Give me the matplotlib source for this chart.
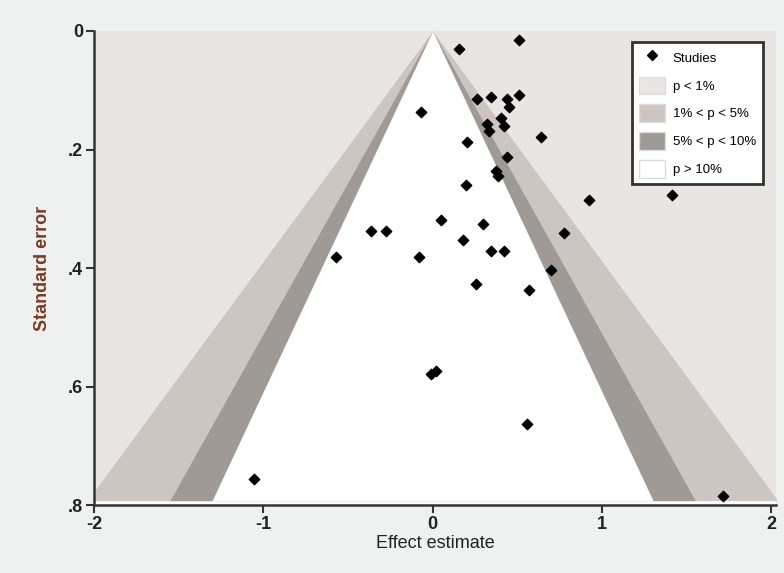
import numpy as np
import matplotlib.pyplot as plt
from matplotlib.lines import Line2D
from matplotlib.patches import Patch

# study effects and standard errors
effect = [0.157, 0.509, 0.265, 0.344, 0.440, 0.452, 0.511, -0.070, 0.324, 0.334,
          0.403, 0.423, 0.639, 0.206, 0.440, 0.374, 0.389, 0.196, 0.923, 1.415,
          0.048, 0.295, -0.365, -0.277, 0.775, 0.177, 0.344, 0.423, -0.573, -0.080,
          0.697, 0.255, 0.570, -0.007, 0.019, 0.558, -1.055, 1.717]
se = [0.030, 0.016, 0.114, 0.111, 0.115, 0.129, 0.108, 0.136, 0.157, 0.169,
      0.147, 0.160, 0.178, 0.187, 0.212, 0.236, 0.245, 0.260, 0.285, 0.276,
      0.319, 0.326, 0.338, 0.338, 0.341, 0.353, 0.371, 0.371, 0.381, 0.381,
      0.403, 0.426, 0.437, 0.578, 0.574, 0.662, 0.755, 0.785]

# contour limits (z for p = 1%, 5%, 10%) and shades
z_levels = [2.576, 1.960, 1.645]
shades = ['#cdc5c1', '#a09a97', '#ffffff']
bg_shade = '#e9e5e3'
legend_labels = ['Studies', 'p < 1%', '1% < p < 5%', '5% < p < 10%', 'p > 10%']

se_max = 0.792
x_ticks = [-2, -1, 0, 1, 2]
y_ticks = [0, 0.2, 0.4, 0.6, 0.8]
y_ticklabels = ['0', '.2', '.4', '.6', '.8']

plt.rcParams['font.family'] = ['Liberation Sans', 'DejaVu Sans']

fig = plt.figure(figsize=(7.84, 5.73), dpi=100, facecolor='#eef1f0')
ax = fig.add_axes([0.12, 0.118, 0.87, 0.828])
ax.set_facecolor('white')

# shaded significance regions
sev = np.array([0, se_max])
ax.fill_betweenx(sev, -3, 3, color=bg_shade, lw=0)
for z, c in zip(z_levels, shades):
    ax.fill_betweenx(sev, -z * sev, z * sev, color=c, lw=0)

ax.scatter(effect, se, marker='D', s=28, color='black', zorder=3)

ax.set_xlim(-2, 2.03)
ax.set_ylim(0.8, 0)
ax.set_xticks(x_ticks)
ax.set_xticklabels([str(t) for t in x_ticks])
ax.set_yticks(y_ticks)
ax.set_yticklabels(y_ticklabels)
ax.tick_params(direction='out', length=6, width=1.5, color='#333333',
               labelsize=13, labelcolor='#222222', pad=2)
for lab in ax.get_xticklabels() + ax.get_yticklabels():
    lab.set_fontweight('bold')

for s in ['top', 'right']:
    ax.spines[s].set_visible(False)
for s in ['left', 'bottom']:
    ax.spines[s].set_color('#333333')
    ax.spines[s].set_linewidth(1.8)

ax.set_xlabel('Effect estimate', fontsize=13, color='#222222', labelpad=1)
ax.set_ylabel('Standard error', fontsize=13, color='#7a3b22', labelpad=12,
              fontweight='bold')

handles = [Line2D([], [], marker='D', color='black', ls='none', markersize=5)]
for c in [bg_shade] + shades:
    handles.append(Patch(facecolor=c, edgecolor='#dddddd'))
leg = ax.legend(handles, legend_labels, loc='upper right',
                bbox_to_anchor=(0.99, 0.99), fontsize=9.5, frameon=True,
                fancybox=False, borderpad=0.5, labelspacing=0.75,
                handlelength=2.0, handleheight=1.7, handletextpad=0.6)
leg.get_frame().set_edgecolor('#333333')
leg.get_frame().set_linewidth(2)
leg.get_frame().set_alpha(1)

plt.savefig('out.png', dpi=100, facecolor=fig.get_facecolor())
